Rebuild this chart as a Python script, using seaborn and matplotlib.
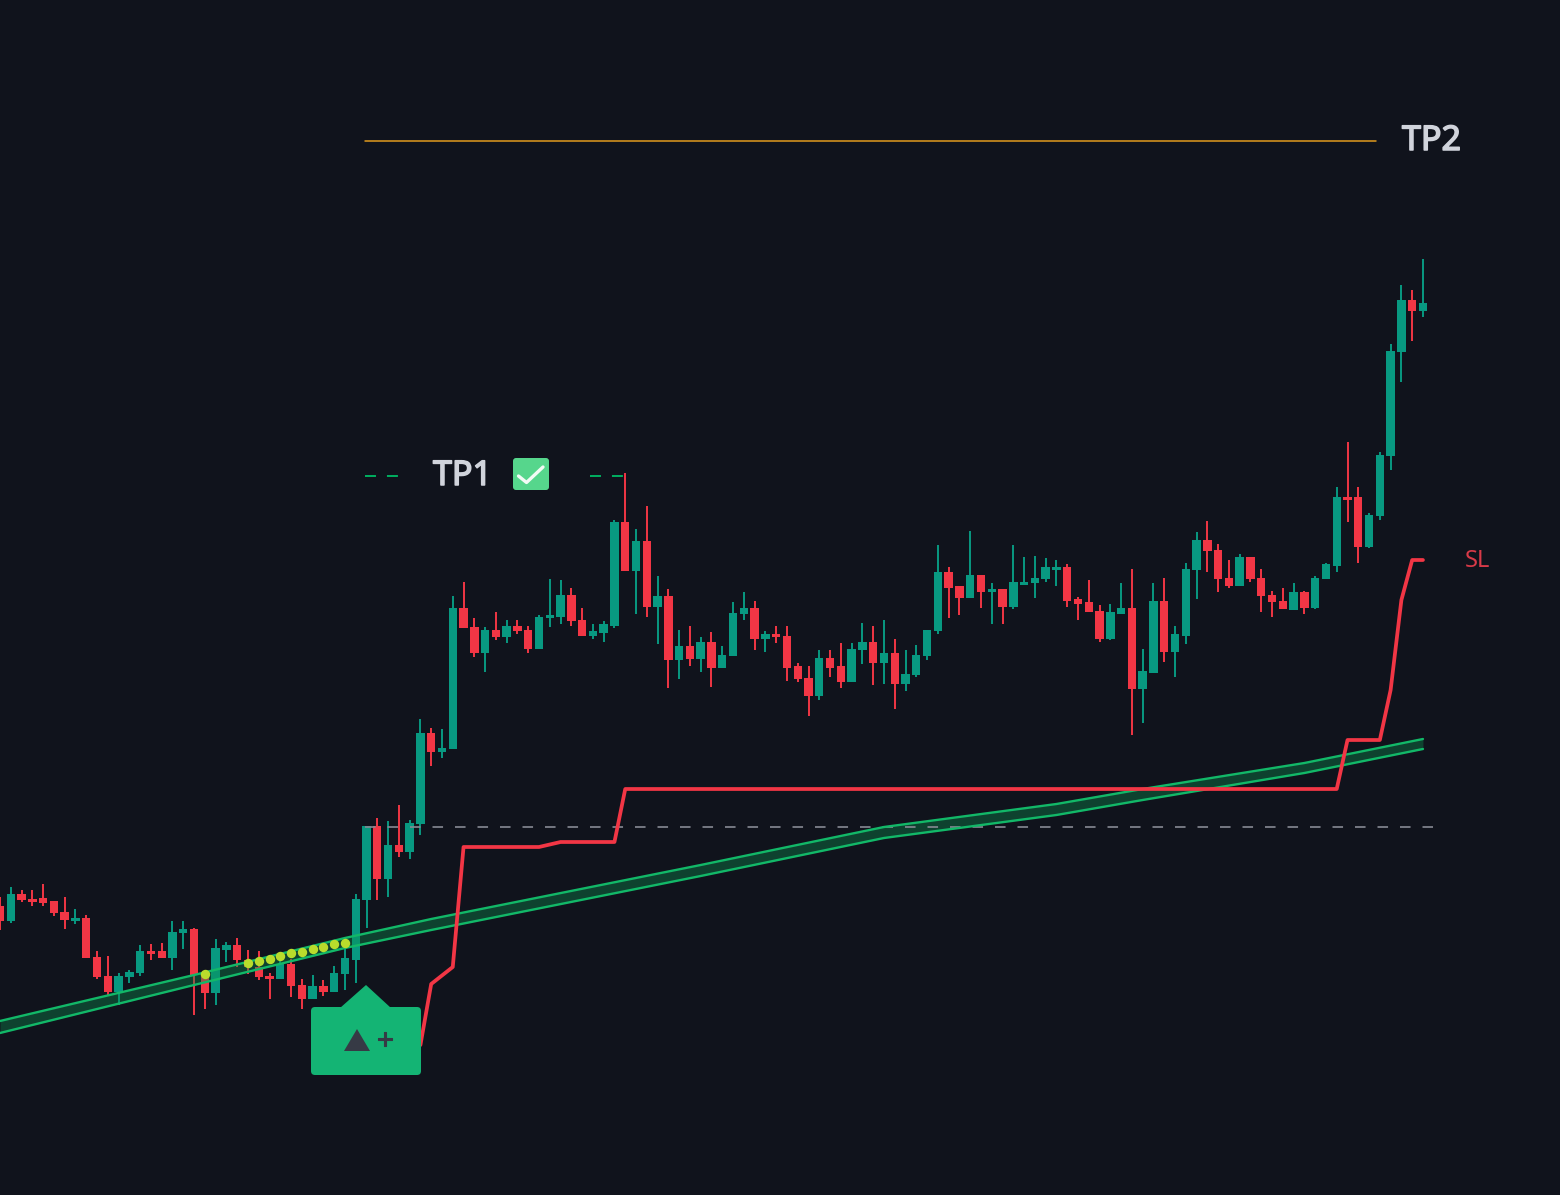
import numpy as np
import pandas as pd
import seaborn as sns
import matplotlib.pyplot as plt
import matplotlib.patheffects as pe
from matplotlib.patches import FancyBboxPatch, Polygon

# chart units: y grows downward, same as the screenshot
candle_dir = list(
    "rgrrrrrgrr"
    "rgggrrggrr"
    "ggrrrrgrrg"
    "rggggrgrgg"
    "rggrrgrgrr"
    "gggrrgggrg"
    "rgrgrgrggg"
    "rgrrrrgrrg"
    "grgrggggrr"
    "grgrgggggr"
    "rrrggrggrg"
    "ggrrrgrrrr"
    "grgggrrggg"
    "grg"
)
wick_top = [897, 887, 890, 890, 884, 901, 897, 909, 915, 951,
            956, 973, 970, 945, 944, 943, 921, 921, 928, 973,
            939, 942, 938, 950, 951, 973, 957, 959, 979, 975,
            980, 966, 940, 894, 826, 818, 821, 805, 820, 719,
            728, 729, 596, 582, 618, 627, 612, 620, 620, 626,
            615, 579, 580, 588, 608, 624, 621, 520, 473, 529,
            506, 576, 589, 630, 626, 637, 632, 646, 602, 592,
            601, 631, 626, 626, 663, 666, 650, 650, 643, 643,
            623, 626, 620, 639, 650, 645, 630, 545, 567, 586,
            531, 575, 583, 589, 545, 557, 556, 558, 560, 564,
            597, 580, 605, 604, 583, 569, 649, 583, 578, 626,
            563, 532, 521, 544, 560, 554, 557, 569, 591, 588,
            583, 591, 576, 563, 487, 442, 487, 513, 452, 344,
            285, 290, 259]
body_top = [906, 894, 894, 899, 898, 901, 912, 918, 918, 957,
            976, 976, 972, 951, 951, 951, 932, 929, 929, 975,
            948, 945, 945, 960, 967, 976, 964, 964, 985, 986,
            986, 973, 958, 899, 826, 826, 845, 845, 823, 733,
            733, 748, 608, 608, 627, 630, 630, 626, 626, 630,
            617, 615, 595, 595, 620, 631, 624, 522, 522, 541,
            541, 596, 596, 646, 646, 642, 642, 655, 613, 608,
            608, 634, 634, 636, 666, 678, 658, 658, 666, 649,
            642, 642, 653, 653, 674, 655, 630, 572, 572, 586,
            575, 575, 589, 589, 582, 582, 578, 567, 567, 567,
            599, 602, 611, 612, 608, 608, 671, 601, 601, 634,
            569, 540, 540, 550, 578, 557, 557, 578, 595, 601,
            592, 592, 578, 564, 497, 497, 497, 515, 455, 351,
            300, 300, 303]
body_bottom = [921, 921, 900, 900, 903, 913, 920, 920, 958, 977,
               992, 992, 977, 973, 952, 958, 958, 933, 975, 993,
               993, 950, 960, 967, 977, 977, 979, 986, 999, 999,
               992, 992, 974, 960, 900, 879, 879, 852, 852, 824,
               752, 752, 749, 628, 653, 653, 637, 637, 631, 649,
               649, 618, 617, 621, 636, 636, 633, 626, 571, 571,
               607, 607, 660, 660, 659, 659, 668, 668, 656, 614,
               639, 639, 635, 668, 679, 696, 696, 668, 682, 682,
               650, 663, 663, 684, 684, 675, 656, 631, 588, 598,
               598, 592, 591, 607, 607, 583, 583, 579, 569, 601,
               604, 612, 639, 639, 614, 689, 689, 673, 652, 652,
               636, 570, 551, 579, 586, 586, 579, 596, 602, 609,
               610, 608, 608, 579, 566, 498, 547, 547, 516, 456,
               352, 311, 311]
wick_bottom = [930, 923, 902, 906, 906, 916, 929, 924, 958, 979,
               996, 1005, 983, 976, 960, 958, 970, 949, 1015, 1009,
               1005, 962, 967, 974, 980, 999, 979, 997, 1009, 999,
               996, 992, 990, 983, 928, 900, 897, 857, 859, 835,
               766, 758, 749, 628, 657, 672, 640, 643, 634, 653,
               649, 627, 624, 626, 636, 639, 642, 628, 571, 614,
               617, 644, 688, 679, 666, 672, 687, 668, 656, 620,
               650, 652, 643, 681, 682, 716, 700, 677, 688, 682,
               664, 685, 684, 709, 691, 677, 660, 634, 618, 615,
               598, 608, 624, 624, 609, 585, 598, 582, 586, 607,
               620, 612, 642, 640, 614, 735, 723, 673, 662, 677,
               644, 599, 572, 592, 588, 586, 582, 612, 617, 609,
               610, 614, 609, 579, 572, 522, 563, 548, 520, 470,
               382, 341, 317]

# trailing stop, one value per listed bar
sl_bars = [39, 40, 42, 43, 50, 52, 57, 58, 124, 125, 128, 129, 130, 131, 132]
sl_values = [1045, 984, 967, 847, 847, 842, 842, 789, 789, 740, 740, 690, 600, 560, 560]

# ema ribbon
ribbon_bars = [0, 18, 32, 40, 65, 82, 98, 106, 121, 132]
ribbon_top = [1021, 975, 938, 919, 865, 827, 804, 789, 763, 739]
ribbon_bottom = [1033, 985, 948, 930, 876, 838, 815, 800, 773, 749]

dot_bars = [19, 23, 24, 25, 26, 27, 28, 29, 30, 31, 32]
dot_values = [974, 963, 961, 959, 956, 953, 952, 949, 947, 944, 943]

BG = "#10131c"
UP = "#089981"
DOWN = "#f23645"
RIBBON = "#12b868"
BAR_STEP = 10.78

sns.set_theme(style="dark", rc={"axes.facecolor": BG, "figure.facecolor": BG})
plt.rcParams["font.family"] = ["Noto Sans", "DejaVu Sans"]
plt.rcParams["lines.scale_dashes"] = False

df = pd.DataFrame({"dir": candle_dir, "wick_top": wick_top, "body_top": body_top,
                   "body_bottom": body_bottom, "wick_bottom": wick_bottom})
df["x"] = df.index * BAR_STEP
df["color"] = df["dir"].map({"g": UP, "r": DOWN})

fig = plt.figure(figsize=(15.6, 11.95), dpi=100)
ax = fig.add_axes([0, 0, 1, 1])

# candles
ax.vlines(df["x"], df["wick_top"], df["wick_bottom"], colors=df["color"], lw=1.4, zorder=2)
ax.bar(df["x"], (df["body_bottom"] - df["body_top"]).clip(lower=2.5), bottom=df["body_top"],
       width=8.4, color=df["color"], linewidth=0, zorder=3)

# ribbon sits over the candles
rib_x = np.array(ribbon_bars) * BAR_STEP
ax.fill_between(rib_x, ribbon_top, ribbon_bottom, color="#0c8f50", alpha=0.38, linewidth=0, zorder=4)
sns.lineplot(x=rib_x, y=ribbon_top, color=RIBBON, lw=1.7, ax=ax, zorder=5)
sns.lineplot(x=rib_x, y=ribbon_bottom, color=RIBBON, lw=1.7, ax=ax, zorder=5)

sns.scatterplot(x=np.array(dot_bars) * BAR_STEP, y=dot_values, color="#b9dc2c", s=46,
                linewidth=0, ax=ax, zorder=6)

# entry level
ax.plot([365, 1433], [827, 827], color="#868993", lw=1.2, ls=(0, (7.6, 8.6)), zorder=4)

# stop line
sns.lineplot(x=np.array(sl_bars) * BAR_STEP, y=sl_values, color=DOWN, lw=2.7, sort=False,
             estimator=None, ax=ax, zorder=5)

# regular face only, so thicken the labels with a stroke
tp_style = dict(color="#d1d4dc", fontsize=24.5, va="center", ha="left",
                path_effects=[pe.withStroke(linewidth=1.1, foreground="#d1d4dc")])

# TP2
ax.plot([365, 1376], [141, 141], color="#e09a1e", lw=1.1, zorder=2)
ax.text(1402, 141, "TP2", **tp_style)

# TP1
ax.plot([365, 398], [476, 476], color="#00b060", lw=1.4, ls=(0, (7.9, 7.9)), zorder=2)
ax.plot([590, 623], [476, 476], color="#00b060", lw=1.4, ls=(0, (7.9, 7.9)), zorder=2)
ax.text(433, 476, "TP1", **tp_style)
ax.add_patch(FancyBboxPatch((515, 460), 32, 28, boxstyle="round,pad=2,rounding_size=3",
                            fc="#56d68c", ec="none", zorder=6))
ax.plot([518.5, 526.5, 543], [476, 482.5, 467], color="#f2fbf5", lw=2.4, zorder=7)

ax.text(1465, 561, "SL", color="#d83a48", fontsize=17, va="center", ha="left")

# buy badge
ax.add_patch(FancyBboxPatch((315, 1011), 102, 60, boxstyle="round,pad=4,rounding_size=4",
                            fc="#14b474", ec="none", zorder=8))
ax.add_patch(Polygon([(340, 1008), (366, 985), (391, 1008)], closed=True, fc="#14b474", ec="none", zorder=8))
ax.add_patch(Polygon([(357, 1029), (344, 1051), (370, 1051)], closed=True, fc="#363a45", ec="none", zorder=9))
ax.text(385, 1042, "+", color="#363a45", fontsize=20, ha="center", va="center", zorder=9,
        path_effects=[pe.withStroke(linewidth=0.8, foreground="#363a45")])

ax.set_xlim(0, 1560)
ax.set_ylim(1195, 0)
ax.axis("off")
fig.savefig("out.png", dpi=100, facecolor=BG)
